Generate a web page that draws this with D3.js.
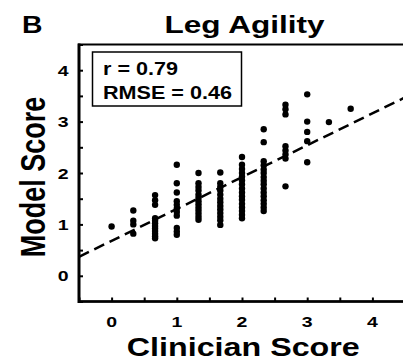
<!DOCTYPE html>
<html>
<head>
<meta charset="utf-8">
<script src="https://cdn.jsdelivr.net/npm/d3@7"></script>
<style>
  html, body { margin: 0; padding: 0; background: #fff; }
  svg { display: block; }
  text { font-family: "Liberation Sans", Arial, sans-serif; font-weight: bold; fill: #000; }
</style>
</head>
<body>
<svg id="chart" width="403" height="361"></svg>
<script>
// Clinician score levels (mean of three raters) and the model scores observed at each level
const clinicianLevels = [0, 0.333, 0.667, 1, 1.333, 1.667, 2, 2.333, 2.667, 3, 3.333, 3.667];
const modelScores = [
  [0.96],
  [1.27, 1.07, 1.00, 0.82],
  [1.57, 1.47, 1.38, 1.12, 1.07, 1.02, 0.97, 0.92, 0.87, 0.82, 0.77, 0.73],
  [2.16, 1.80, 1.62, 1.45, 1.38, 1.31, 1.24, 1.17, 0.93, 0.86, 0.80],
  [2.00, 1.80, 1.73, 1.66, 1.58, 1.52, 1.45, 1.39, 1.33, 1.27, 1.21, 1.15, 1.09],
  [2.01, 1.80, 1.73, 1.66, 1.58, 1.50, 1.43, 1.36, 1.29, 1.22, 1.15, 1.08, 0.99],
  [2.31, 2.16, 2.08, 2.00, 1.93, 1.86, 1.78, 1.70, 1.62, 1.55, 1.48, 1.40, 1.33, 1.26, 1.19, 1.12],
  [2.85, 2.60, 2.23, 2.15, 2.07, 2.00, 1.92, 1.85, 1.78, 1.70, 1.62, 1.55, 1.47, 1.40, 1.33, 1.26],
  [3.33, 3.24, 3.14, 2.52, 2.44, 2.36, 2.28, 1.74],
  [3.53, 3.00, 2.80, 2.62, 2.21],
  [2.99],
  [3.25]
];
// Least-squares fit shown as the dashed line
const fitIntercept = 0.68;
const fitSlope = 0.62;
const statLines = ["r = 0.79", "RMSE = 0.46"];
const tickValues = [-0.5, 0, 0.5, 1, 1.5, 2, 2.5, 3, 3.5, 4, 4.5];
const labelValues = [0, 1, 2, 3, 4];

const svg = d3.select("#chart");
const plotLeft = 79, plotRight = 405, plotTop = 44.5, plotBottom = 301.5;
const x = d3.scaleLinear().domain([-0.5, 4.5]).range([plotLeft, plotRight]);
const y = d3.scaleLinear().domain([-0.5, 4.5]).range([plotBottom, plotTop]);
const SX = 1.3; // horizontal stretch applied to the lettering

// plot frame
svg.append("rect")
  .attr("x", plotLeft).attr("y", plotTop)
  .attr("width", plotRight - plotLeft).attr("height", plotBottom - plotTop)
  .attr("fill", "none").attr("stroke", "#000").attr("stroke-width", 2);
svg.append("line").attr("x1", plotLeft).attr("x2", plotLeft).attr("y1", plotTop - 1).attr("y2", plotBottom + 1.5)
  .attr("stroke", "#000").attr("stroke-width", 3);
svg.append("line").attr("x1", plotLeft).attr("x2", plotRight).attr("y1", plotBottom).attr("y2", plotBottom)
  .attr("stroke", "#000").attr("stroke-width", 2.5);

// inward ticks
const xAxis = d3.axisBottom(x).tickValues(tickValues).tickSize(-4).tickFormat("");
const yAxis = d3.axisLeft(y).tickValues(tickValues).tickSize(-4).tickFormat("");
const gx = svg.append("g").attr("transform", `translate(0,${plotBottom})`).call(xAxis);
const gy = svg.append("g").attr("transform", `translate(${plotLeft},0)`).call(yAxis);
[gx, gy].forEach(g => {
  g.select(".domain").remove();
  g.selectAll(".tick line").attr("stroke", "#000").attr("stroke-width", 2);
});

// tick labels
svg.append("g").selectAll("text").data(labelValues).join("text")
  .attr("transform", d => `translate(${x(d)},326.5) scale(${SX},1)`)
  .attr("text-anchor", "middle").attr("font-size", 15).text(d => d);
svg.append("g").selectAll("text").data(labelValues).join("text")
  .attr("transform", d => `translate(68.5,${y(d) + 5.5}) scale(${SX},1)`)
  .attr("text-anchor", "end").attr("font-size", 15).text(d => d);

// regression line
const fitLine = d3.line().x(d => x(d)).y(d => y(fitIntercept + fitSlope * d));
svg.append("path").datum([-0.5, 4.5]).attr("d", fitLine)
  .attr("fill", "none").attr("stroke", "#000").attr("stroke-width", 2.5)
  .attr("stroke-dasharray", "11,6");

// points
const points = [];
clinicianLevels.forEach((c, i) => modelScores[i].forEach(m => points.push({ c, m })));
svg.append("g").selectAll("circle").data(points).join("circle")
  .attr("cx", d => x(d.c)).attr("cy", d => y(d.m)).attr("r", 3.2).attr("fill", "#000");

// statistics box
svg.append("rect").attr("x", 92.5).attr("y", 52).attr("width", 149).attr("height", 54)
  .attr("fill", "#fff").attr("stroke", "#000").attr("stroke-width", 1.5);
svg.append("text").attr("x", 103).attr("y", 74.5).attr("font-size", 18.5)
  .attr("textLength", 75).attr("lengthAdjust", "spacingAndGlyphs").text(statLines[0]);
svg.append("text").attr("x", 103).attr("y", 98.5).attr("font-size", 18.5)
  .attr("textLength", 129).attr("lengthAdjust", "spacingAndGlyphs").text(statLines[1]);

// titles
svg.append("text").attr("x", 22).attr("y", 32.5).attr("font-size", 23.5)
  .attr("textLength", 20.5).attr("lengthAdjust", "spacingAndGlyphs").text("B");
svg.append("text").attr("x", 244.5).attr("y", 32.5).attr("font-size", 23.5).attr("text-anchor", "middle")
  .attr("textLength", 160).attr("lengthAdjust", "spacingAndGlyphs").text("Leg Agility");
svg.append("text").attr("x", 243.3).attr("y", 355.5).attr("font-size", 25.5).attr("text-anchor", "middle")
  .attr("textLength", 233).attr("lengthAdjust", "spacingAndGlyphs").text("Clinician Score");
svg.append("text").attr("transform", `translate(44.5,177) scale(${SX},1) rotate(-90)`)
  .attr("text-anchor", "middle").attr("font-size", 27).text("Model Score");
</script>
</body>
</html>
